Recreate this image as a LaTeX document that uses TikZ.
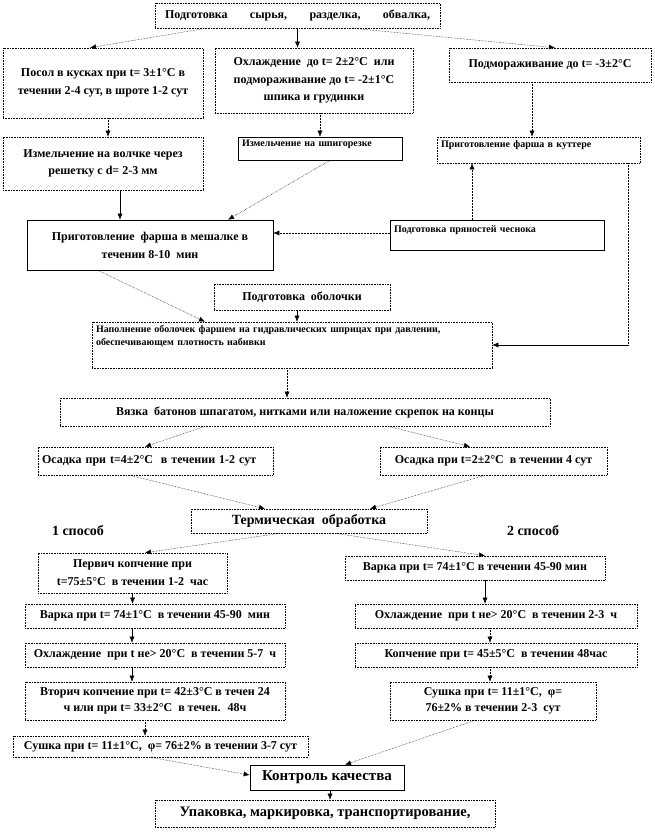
\documentclass[tikz,border=0pt]{standalone}
\usepackage{fontspec}
\setmainfont{Liberation Serif}
\usetikzlibrary{arrows.meta,positioning}

\newcommand{\bft}[2]{\fontsize{#1}{#2}\selectfont\bfseries}

\begin{document}
\begin{tikzpicture}[x=1pt,y=-1pt,
    blk/.style={draw, densely dotted, line width=0.6pt, fill=white, inner xsep=4pt, inner ysep=2pt, align=center, font=\bft{12}{18}},
    blks/.style={blk, solid},
    sml/.style={blk, align=left, font=\bft{10}{13}},
    dl/.style={densely dotted, line width=0.5pt, -{Latex[length=6pt,width=5pt]}},
    sl/.style={line width=0.5pt, -{Latex[length=6pt,width=5pt]}}]
\useasboundingbox (0,0) rectangle (654,835);

% upper part
\node[blk, minimum width=285pt, minimum height=25pt, text width=265pt] (top) at (297.5,15.5)
    {Подготовка\hfill сырья,\hfill разделка,\hfill обвалка,};
\node[blk, minimum width=200pt, minimum height=70pt] (posol) at (103,83)
    {Посол в кусках при t= 3±1°С в\\ течении 2-4 сут, в шроте 1-2 сут};
\node[blk, minimum width=198pt, minimum height=65pt, font=\bft{12}{17.5}] (ohl) at (314,80.5)
    {Охлаждение \ до t= 2±2°С \ или\\ подмораживание до t= -2±1°С\\ шпика и грудинки};
\node[blk, minimum width=202pt, minimum height=34pt] (podm) at (550,65)
    {Подмораживание до t= -3±2°С};
\node[blk, minimum width=200pt, minimum height=53pt, font=\bft{12}{17}] (volchok) at (103,163.5)
    {Измельчение на волчке через\\ решетку с d= 2-3 мм};
\node[sml, solid, minimum width=164pt, text width=156pt, text height=7pt, text depth=12pt] (shpig) at (320,148.5)
    {Измельчение на шпигорезке};
\node[sml, minimum width=203pt, text width=195pt, text height=8pt, text depth=14pt] (kutter) at (538.5,150)
    {Приготовление фарша в куттере};
\node[blks, minimum width=246pt, minimum height=50pt] (meshalka) at (150,245)
    {Приготовление \ фарша в мешалке в\\ течении 8-10 \ мин};
\node[sml, solid, minimum width=214pt, text width=206pt, text height=10pt, text depth=16pt] (pryan) at (497,235)
    {Подготовка пряностей чеснока};
\node[blk, minimum width=176pt, minimum height=26pt] (obol) at (302,297)
    {Подготовка \ оболочки};
\node[sml, minimum width=400pt, text width=392pt, text height=8pt, text depth=34pt] (napoln) at (292,345)
    {Наполнение оболочек фаршем на гидравлических шприцах при давлении,\\ обеспечивающем плотность набивки};

\draw[dl] ([xshift=-92pt]top.south) -- ([xshift=-13pt]posol.north);
\draw[sl] (top.south) -- (top.south |- ohl.north);
\draw[dl] ([xshift=55pt]top.south) -- ([xshift=5pt]podm.north);
\draw[dl] ([xshift=5pt]posol.south) -- ([xshift=5pt]volchok.north);
\draw[dl] (shpig.north |- ohl.south) -- (shpig.north);
\draw[dl] ([xshift=-18pt]podm.south) -- ([xshift=-6.5pt]kutter.north);
\draw[sl] ([xshift=17pt]volchok.south) -- ([xshift=-30pt]meshalka.north);
\draw[dl] ([xshift=10pt]shpig.south) -- ([xshift=78pt]meshalka.north);
\draw[dl] ([yshift=2pt]pryan.west) -- ([yshift=12pt]meshalka.east);
\draw[dl] ([xshift=-25pt]pryan.north) -- ([xshift=-25pt]pryan.north |- kutter.south);
\draw[densely dotted, line width=0.5pt] ([xshift=89.5pt]kutter.south) -- ([xshift=89.5pt]kutter.south |- napoln.east) coordinate (kbend);
\draw[sl] (kbend) -- (napoln.east);
\draw[dl] ([xshift=-52pt]meshalka.south) -- ([xshift=-87pt]napoln.north);
\draw[sl] ([xshift=-5pt]obol.south) -- ([xshift=-5pt]obol.south |- napoln.north);

% middle part
\node[blk, minimum width=490pt, minimum height=28pt] (vyazka) at (305,412)
    {Вязка \ батонов шпагатом, нитками или наложение скрепок на концы};
\node[blk, minimum width=235pt, minimum height=28pt, text width=227pt, align=left] (osad1) at (155.5,461)
    {Осадка при t=4±2°С \ в течении 1-2 сут};
\node[blk, minimum width=227pt, minimum height=28pt] (osad2) at (493.5,461)
    {Осадка при t=2±2°С \ в течении 4 сут};
\node[blk, minimum width=236pt, minimum height=24pt, font=\bft{14}{17}] (termich) at (309,521)
    {Термическая \ обработка};
\node[font=\bft{14}{17}] (sp1) at (78,531) {1 способ};
\node[font=\bft{14}{17}] (sp2) at (533,531) {2 способ};

\draw[dl] ([xshift=-5pt]napoln.south) -- ([xshift=-5pt]napoln.south |- vyazka.north);
\draw[dl] ([xshift=-100pt]vyazka.south) -- ([xshift=-10.5pt]osad1.north);
\draw[dl] ([xshift=83pt]vyazka.south) -- ([xshift=-23.5pt]osad2.north);
\draw[dl] ([xshift=-25.5pt]osad1.south) -- ([xshift=-44pt]termich.north);
\draw[dl] ([xshift=-8.5pt]osad2.south) -- ([xshift=61pt]termich.north);

% way 1
\node[blk, minimum width=189pt, minimum height=40pt] (pervich) at (132.5,573)
    {Первич копчение при\\ t=75±5°С \ в течении 1-2 \ час};
\node[blk, minimum width=260pt, minimum height=24pt] (varka1) at (155,616)
    {Варка при t= 74±1°С \ в течении 45-90 \ мин};
\node[blk, minimum width=260pt, minimum height=24pt] (ohl1) at (155,655)
    {Охлаждение \ при t не> 20°С \ в течении 5-7 \ ч};
\node[blk, minimum width=260pt, minimum height=38pt, font=\bft{12}{16}] (vtorich) at (155,701)
    {Вторич копчение при t= 42±3°С в течен 24\\ ч или при t= 33±2°С \ в течен. \ 48ч};
\node[blk, minimum width=295pt, minimum height=21pt] (sushka1) at (160.5,746.5)
    {Сушка при t= 11±1°С, \ φ= 76±2\% в течении 3-7 сут};

% way 2
\node[blk, minimum width=260pt, minimum height=24pt] (varka2) at (475,568)
    {Варка при t= 74±1°С в течении 45-90 мин};
\node[blk, minimum width=282pt, minimum height=24pt] (ohl2) at (496,616)
    {Охлаждение \ при t не> 20°С \ в течении 2-3 \ ч};
\node[blk, minimum width=282pt, minimum height=24pt] (kopch2) at (496,655)
    {Копчение при t= 45±5°С \ в течении 48час};
\node[blk, minimum width=206pt, minimum height=38pt, font=\bft{12}{16}] (sushka2) at (493,701)
    {Сушка при t= 11±1°С, \ φ=\\ 76±2\% в течении 2-3 \ сут};

% final
\node[blk, solid, minimum width=154pt, minimum height=25pt, font=\bft{15}{18}] (kontrol) at (327,777.5)
    {Контроль качества};
\node[blk, minimum width=340pt, minimum height=27pt, font=\bft{14.5}{17}] (upak) at (325,813.5)
    {Упаковка, маркировка, транспортирование,};

\draw[dl] ([xshift=-29pt]termich.south) -- ([xshift=12.5pt]pervich.north);
\draw[dl] ([xshift=26pt]termich.south) -- ([xshift=10pt]varka2.north);
\draw[sl] (pervich.south) -- (pervich.south |- varka1.north);
\draw[sl] ([xshift=-23pt]varka1.south) -- ([xshift=-23pt]ohl1.north);
\draw[sl] ([xshift=-23pt]ohl1.south) -- ([xshift=-23pt]vtorich.north);
\draw[dl] ([xshift=-10pt]vtorich.south) -- ([xshift=-10pt]vtorich.south |- sushka1.north);
\draw[sl] ([xshift=10pt]varka2.south) -- ([xshift=10pt]varka2.south |- ohl2.north);
\draw[dl] ([xshift=-6pt]ohl2.south) -- ([xshift=-6pt]kopch2.north);
\draw[dl] ([xshift=-6pt]kopch2.south) -- ([xshift=-6pt]kopch2.south |- sushka2.north);
\draw[dl] ([xshift=-10.5pt]sushka1.south) -- ([yshift=2.5pt]kontrol.west);
\draw[dl] ([xshift=-18pt]sushka2.south) -- ([xshift=18pt]kontrol.north);
\draw[sl] ([xshift=3pt]kontrol.south) -- ([xshift=3pt]kontrol.south |- upak.north);
\end{tikzpicture}
\end{document}
